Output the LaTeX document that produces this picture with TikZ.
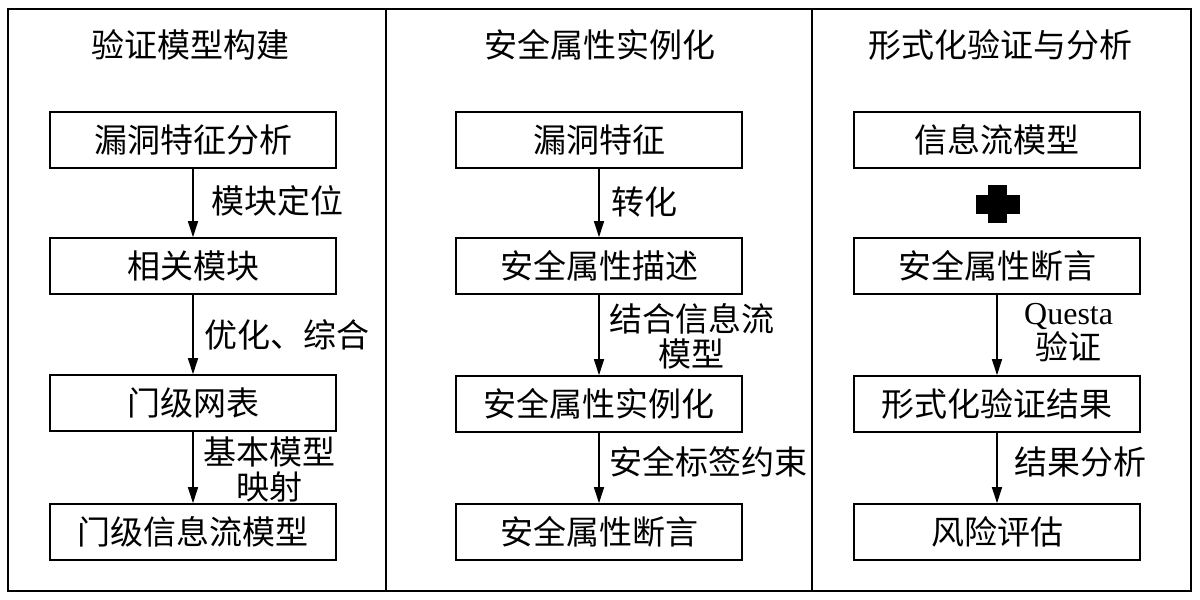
\documentclass[tikz,border=0pt]{standalone}
\usepackage{fontspec}
\setmainfont{Liberation Serif}
\newfontfamily\cjk{Noto Sans CJK SC}
\usetikzlibrary{arrows.meta}
\begin{document}
\begin{tikzpicture}[x=1pt,y=-1pt,
  box/.style={draw,line width=1.6pt,minimum width=286pt,minimum height=56pt,inner sep=0pt,font=\cjk\fontsize{33}{36}\selectfont},
  ttl/.style={font=\cjk\fontsize{33}{36}\selectfont,inner sep=0pt},
  lbl/.style={font=\cjk\fontsize{33}{35}\selectfont,inner sep=0pt,anchor=west,align=center},
  arr/.style={line width=1.4pt,-{Triangle[length=16pt,width=10pt]}}]
\useasboundingbox (0,0) rectangle (1200,600);
\draw[line width=1.8pt] (8,9) rectangle (1191,591);
\draw[line width=1.8pt] (386,9) -- (386,591);
\draw[line width=1.8pt] (812,9) -- (812,591);
% titles
\node[ttl] (t1) at (190,45) {验证模型构建};
\node[ttl] (t2) at (600,45) {安全属性实例化};
\node[ttl] (t3) at (1000,45) {形式化验证与分析};
% panel 1
\node[box] (a1) at (193,140) {漏洞特征分析};
\node[box] (a2) at (193,266) {相关模块};
\node[box] (a3) at (193,403) {门级网表};
\node[box] (a4) at (193,532) {门级信息流模型};
\draw[arr] (a1) -- (a2);
\draw[arr] (a2) -- (a3);
\draw[arr] (a3) -- (a4);
\node[lbl] (la1) at (211,201) {模块定位};
\node[lbl] (la2) at (204,335) {优化、综合};
\node[lbl] (la3) at (203,470) {基本模型\\映射};
% panel 2
\node[box] (b1) at (599,140) {漏洞特征};
\node[box] (b2) at (599,266) {安全属性描述};
\node[box] (b3) at (599,404) {安全属性实例化};
\node[box] (b4) at (599,532) {安全属性断言};
\draw[arr] (b1) -- (b2);
\draw[arr] (b2) -- (b3);
\draw[arr] (b3) -- (b4);
\node[lbl] (lb1) at (611,202) {转化};
\node[lbl] (lb2) at (609,336) {结合信息流\\模型};
\node[lbl] (lb3) at (609,462) {安全标签约束};
% panel 3
\node[box] (c1) at (997,140) {信息流模型};
\fill (976,195) rectangle (1020,214);
\fill (988,185) rectangle (1007,223);
\coordinate (plus) at (998,204);
\node[box] (c2) at (997,266) {安全属性断言};
\node[box] (c3) at (997,404) {形式化验证结果};
\node[box] (c4) at (997,532) {风险评估};
\draw[arr] (c2) -- (c3);
\draw[arr] (c3) -- (c4);
\node[lbl] (lc2) at (1024,333) {{\rmfamily\fontsize{32}{35}\selectfont Questa}\\验证};
\node[lbl] (lc3) at (1014,462) {结果分析};
\end{tikzpicture}
\end{document}
